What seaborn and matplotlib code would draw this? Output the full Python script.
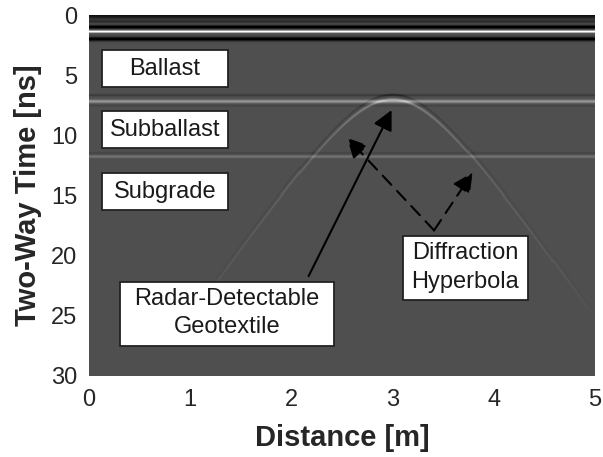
import numpy as np
import pandas as pd
import matplotlib
matplotlib.use("Agg")
import matplotlib.pyplot as plt
import seaborn as sns
from matplotlib.patches import Rectangle, FancyArrowPatch

# ---------------- data ----------------
distance_ticks = [0, 1, 2, 3, 4, 5]
time_ticks = [0, 5, 10, 15, 20, 25, 30]
x_max = 5.0
t_max = 30.0
background_gray = 0.31

# horizontal events: two-way time [ns], amplitude (gray units), width [ns]
band_times = [0.0, 0.55, 1.0, 1.38, 2.0, 6.68, 7.2, 7.55, 11.5, 11.8]
band_amps = [-0.25, -0.12, -0.35, 0.85, -0.35, -0.08, 0.28, -0.04, -0.04, 0.14]
band_widths = [0.35, 0.12, 0.15, 0.09, 0.17, 0.10, 0.14, 0.10, 0.10, 0.12]

# diffraction hyperbola
apex_x = 3.0        # m
apex_t = 7.05       # ns
hyp_k = 146.0       # ns^2 / m^2
hyp_amp = 0.25
hyp_decay = 0.9     # m
hyp_width = 0.12    # ns
hyp_fade_t = 24.5   # ns

layer_labels = ["Ballast", "Subballast", "Subgrade"]

# ---------------- build radargram ----------------
NX, NY = 500, 360
xs = (np.arange(NX) + 0.5) / NX * x_max
ts = (np.arange(NY) + 0.5) / NY * t_max
T, Xg = np.meshgrid(ts, xs, indexing="ij")
img = np.full(T.shape, background_gray)
for bt, ba, bw in zip(band_times, band_amps, band_widths):
    img += ba * np.exp(-((T - bt) / bw) ** 2)
dx = Xg - apex_x
th = np.sqrt(apex_t ** 2 + hyp_k * dx ** 2)
amp = hyp_amp * np.exp(-np.abs(dx) / hyp_decay) / (1 + np.exp((th - hyp_fade_t) / 0.8))
img += amp * (np.exp(-((T - th) / hyp_width) ** 2)
              - 0.4 * np.exp(-((T - th + 0.4) / 0.1) ** 2))
img = np.clip(img, 0, 1)
df = pd.DataFrame(img, index=np.round(ts, 3), columns=np.round(xs, 3))

# ---------------- figure ----------------
fig = plt.figure(figsize=(6.03, 4.57), dpi=100)
ax = fig.add_axes([89 / 603, 1 - 376 / 457, 506 / 603, 361 / 457])
sns.heatmap(df, cmap="gray", vmin=0, vmax=1, cbar=False, ax=ax,
            xticklabels=False, yticklabels=False, rasterized=True)
plt.rcParams["font.family"] = ["Liberation Sans", "DejaVu Sans"]

def X(d):
    return d / x_max * NX

def Y(t):
    return t / t_max * NY

tc = "#262626"
ax.set_xticks([X(d) for d in distance_ticks])
ax.set_xticklabels([str(d) for d in distance_ticks], family="Liberation Sans")
ax.set_yticks([Y(t) for t in time_ticks])
ax.set_yticklabels([str(t) for t in time_ticks], rotation=0, family="Liberation Sans")
ax.tick_params(axis="x", length=0, pad=9, labelsize=17, labelcolor=tc)
ax.tick_params(axis="y", length=0, pad=8.5, labelsize=17, labelcolor=tc)
ax.set_xlabel("Distance [m]", fontsize=21, fontweight="bold", color=tc,
              family="Liberation Sans", va="center")
ax.set_ylabel("Two-Way Time [ns]", fontsize=21, fontweight="bold", color=tc,
              family="Liberation Sans", va="center")
ax.xaxis.set_label_coords(0.5, -0.172)
ax.yaxis.set_label_coords(-0.1206, 0.5)

def box(x0, x1, t0, t1, lines, line_ts):
    ax.add_patch(Rectangle((X(x0), Y(t0)), X(x1) - X(x0), Y(t1) - Y(t0),
                           facecolor="white", edgecolor="#222222", lw=1.3, zorder=5))
    for s, lt in zip(lines, line_ts):
        ax.text(X((x0 + x1) / 2), Y(lt), s, ha="center", va="center",
                fontsize=17, color="#1a1a1a", family="Liberation Sans", zorder=6)

box(0.13, 1.37, 2.91, 5.99, [layer_labels[0]], [4.45])
box(0.13, 1.37, 7.98, 11.06, [layer_labels[1]], [9.52])
box(0.13, 1.37, 13.13, 16.21, [layer_labels[2]], [14.67])
box(0.306, 2.42, 22.19, 27.51, ["Radar-Detectable", "Geotextile"], [23.6, 25.95])
box(3.10, 4.34, 18.37, 23.69, ["Diffraction", "Hyperbola"], [19.75, 22.2])

def arrow(p0, p1, ls="-"):
    a = FancyArrowPatch((X(p0[0]), Y(p0[1])), (X(p1[0]), Y(p1[1])),
                        arrowstyle="-|>,head_length=0.6,head_width=0.3",
                        mutation_scale=20, lw=1.5, color="black",
                        linestyle=ls, shrinkA=0, shrinkB=0, zorder=4)
    ax.add_patch(a)

arrow((2.17, 21.7), (2.99, 7.9))
arrow((3.41, 17.9), (2.55, 10.2), ls=(0, (6, 4)))
arrow((3.41, 17.9), (3.79, 13.1), ls=(0, (6, 4)))

fig.savefig("out.png", dpi=100)
